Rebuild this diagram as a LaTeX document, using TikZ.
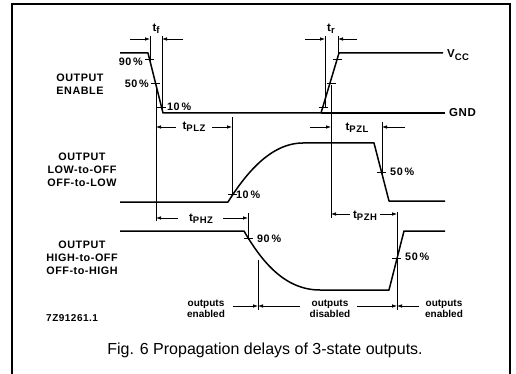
\documentclass[tikz,border=0pt]{standalone}
\usepackage{fontspec}
\setmainfont{Liberation Sans}
\newfontfamily\spacedfont[LetterSpace=5]{Liberation Sans}
\usetikzlibrary{arrows.meta}
\newcommand{\tsb}[2]{#1\raisebox{-2.4pt}{\fontsize{9.5}{10}\selectfont #2}}
\begin{document}
\begin{tikzpicture}[x=1pt,y=-1pt,
  wave/.style={line width=1.5pt, line join=round},
  thinwave/.style={line width=1.1pt},
  refl/.style={line width=0.75pt},
  dimarrow/.style={line width=0.75pt,-{Latex[length=5pt,width=3.6pt]}},
  tickm/.style={line width=0.8pt},
  lbl/.style={font=\spacedfont\bfseries\fontsize{10.8}{12.8}\selectfont, align=center, inner sep=0pt},
  pct/.style={font=\spacedfont\bfseries\fontsize{10.8}{12}\selectfont, inner sep=0pt},
  tlab/.style={font=\spacedfont\bfseries\fontsize{11.5}{12}\selectfont, inner sep=0pt},
  small/.style={font=\bfseries\fontsize{10}{11}\selectfont, align=center, inner sep=0pt},
]
\useasboundingbox (0,0) rectangle (516,374);
\draw[line width=1.2pt] (12,374) -- (12,4) -- (510,4) -- (510,374);

% left labels
\node[lbl] (oe) at (80,84) {OUTPUT\\ENABLE};
\node[lbl] (ol) at (82,170) {OUTPUT\\LOW-to-OFF\\OFF-to-LOW};
\node[lbl] (oh) at (82,258) {OUTPUT\\HIGH-to-OFF\\OFF-to-HIGH};
\node[lbl, anchor=west, font=\spacedfont\bfseries\fontsize{10}{11}\selectfont] (code) at (46,318) {7Z91261.1};

% output enable waveform
\coordinate (e0) at (120,53);
\coordinate (e1) at (148,53);
\coordinate (e2) at (163,113);
\coordinate (e3) at (321,113);
\coordinate (e4) at (339,53);
\coordinate (e5) at (443,53);
\coordinate (g5) at (445,113);
\draw[wave] (e0) -- (e1) -- (e2) -- (e3) -- (e4) -- (e5);
\draw[thinwave] (e3) -- (g5);
\node[tlab, anchor=west] (vcc) at (447,55) {\tsb{V}{CC}};
\node[tlab, anchor=west] (gnd) at (449,113) {GND};

% falling edge ticks
\coordinate (f90) at (149.5,59);
\coordinate (f50) at (155.5,83);
\coordinate (f10) at (161.5,107);
\draw[tickm] (f90) ++(-4.5,0) -- ++(9,0);
\draw[tickm] (f50) ++(-4.5,0) -- ++(9,0);
\draw[tickm] (f10) ++(-4.5,0) -- ++(9,0);
\node[pct, anchor=east] (p90a) at (143,62) {90\,\%};
\node[pct, anchor=east] (p50a) at (149,84) {50\,\%};
\node[pct, anchor=west] (p10a) at (167,107) {10\,\%};

% rising edge ticks
\coordinate (r10) at (323,107);
\coordinate (r50) at (331,83);
\coordinate (r90) at (337,59);
\draw[tickm] (r10) ++(-4.5,0) -- ++(9,0);
\draw[tickm] (r50) ++(-4.5,0) -- ++(9,0);
\draw[tickm] (r90) ++(-4.5,0) -- ++(9,0);

% tf
\coordinate (tfa) at (150,36);
\coordinate (tfb) at (162,36);
\draw[refl] (tfa) -- (150,62);
\draw[refl] (tfb) -- (162,110);
\coordinate (tfl) at (130,39);
\coordinate (tfr) at (183,39);
\draw[dimarrow] (tfl) -- (150,39);
\draw[dimarrow] (tfr) -- (162,39);
\node[tlab] (tf) at (156,29) {\tsb{t}{f}};

% tr
\coordinate (tra) at (325,36);
\coordinate (trb) at (338,36);
\draw[refl] (tra) -- (325,107);
\draw[refl] (trb) -- (338,56);
\coordinate (trl) at (305,39);
\coordinate (trr) at (357,39);
\draw[dimarrow] (trl) -- (325,39);
\draw[dimarrow] (trr) -- (338,39);
\node[tlab] (tr) at (331,29) {\tsb{t}{r}};

% reference verticals
\coordinate (en50top) at (156,85);
\coordinate (en50bot) at (156,221);
\draw[refl] (en50top) -- (en50bot);
\coordinate (dis50top) at (331,85);
\coordinate (dis50bot) at (331,218);
\draw[refl] (dis50top) -- (dis50bot);

% LOW-to-OFF waveform
\coordinate (l0) at (120,202);
\coordinate (l1) at (228,202);
\coordinate (l2) at (303,143);
\coordinate (l3) at (374,143);
\coordinate (l4) at (389,201);
\coordinate (l5) at (445,201);
\draw[wave] (l0) -- (l1) .. controls (245,175) and (270,143) .. (l2) -- (l3) -- (l4) -- (l5);
\coordinate (l10) at (232.5,194.5);
\draw[tickm] (l10) ++(-4.5,0) -- ++(9,0);
\node[pct, anchor=west] (p10b) at (236,195) {10\,\%};
\coordinate (l50) at (381.5,172);
\draw[tickm] (l50) ++(-4.5,0) -- ++(9,0);
\node[pct, anchor=west] (p50b) at (390,172) {50\,\%};

% tPLZ
\coordinate (plzr) at (232,117);
\draw[refl] (plzr) -- (232,195);
\node[tlab] (tplz) at (194,127) {\tsb{t}{PLZ}};
\draw[dimarrow] (176,127) -- (156,127);
\draw[dimarrow] (212,127) -- (232,127);

% tPZL
\coordinate (pzlr) at (382,122);
\draw[refl] (pzlr) -- (382,176);
\node[tlab] (tpzl) at (357,128) {\tsb{t}{PZL}};
\draw[dimarrow] (310,127) -- (331,127);
\draw[dimarrow] (405,127) -- (382,127);

% HIGH-to-OFF waveform
\coordinate (h0) at (120,231);
\coordinate (h1) at (244,231);
\coordinate (h2) at (320,290);
\coordinate (h3) at (389,290);
\coordinate (h4) at (404,231);
\coordinate (h5) at (445,231);
\draw[wave] (h0) -- (h1) .. controls (262,262) and (285,290) .. (h2) -- (h3) -- (h4) -- (h5);
\coordinate (h90) at (248.5,238.5);
\draw[tickm] (h90) ++(-4.5,0) -- ++(9,0);
\node[pct, anchor=west] (p90b) at (257,239) {90\,\%};
\coordinate (h50) at (396.5,258);
\draw[tickm] (h50) ++(-4.5,0) -- ++(9,0);
\node[pct, anchor=west] (p50c) at (405,257) {50\,\%};

% tPHZ
\coordinate (phzr) at (248,213);
\draw[refl] (phzr) -- (248,240);
\node[tlab] (tphz) at (201,219) {\tsb{t}{PHZ}};
\draw[dimarrow] (178,218) -- (156,218);
\draw[dimarrow] (223,218) -- (248,218);

% tPZH
\coordinate (pzhr) at (397,212);
\coordinate (pzhb) at (397,310);
\draw[refl] (pzhr) -- (pzhb);
\node[tlab] (tpzh) at (365,216) {\tsb{t}{PZH}};
\draw[dimarrow] (350,214) -- (331,214);
\draw[dimarrow] (380,214) -- (397,214);

% outputs enabled / disabled
\coordinate (oet) at (258,260);
\coordinate (oeb) at (258,310);
\draw[refl] (oet) -- (oeb);
\node[small] (en1) at (206,309) {outputs\\enabled};
\node[small] (dis) at (330,309) {outputs\\disabled};
\node[small] (en2) at (444,309) {outputs\\enabled};
\draw[dimarrow] (233,306) -- (258,306);
\draw[dimarrow] (300,306) -- (258,306);
\draw[dimarrow] (357,306) -- (397,306);
\draw[dimarrow] (419,306) -- (397,306);

% caption
\node[font=\fontsize{16}{18}\selectfont, inner sep=0pt] (cap) at (265,350) {Fig. 6 Propagation delays of 3-state outputs.};
\end{tikzpicture}
\end{document}
